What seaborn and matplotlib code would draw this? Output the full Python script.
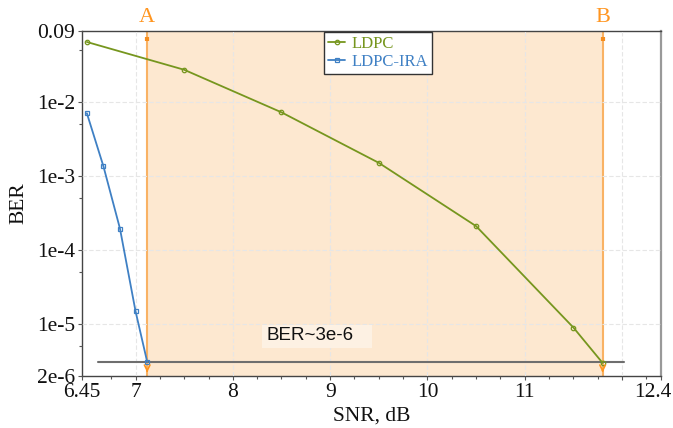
import matplotlib
matplotlib.use("Agg")
import matplotlib.pyplot as plt
import matplotlib.transforms as mtransforms
from matplotlib.patches import Rectangle
from matplotlib.ticker import FixedLocator, NullFormatter
import seaborn as sns
import pandas as pd

# ---- data ----
ldpc_snr = [6.5, 7.5, 8.5, 9.5, 10.5, 11.5, 11.8]
ldpc_ber = [0.064, 0.027, 7.2e-3, 1.5e-3, 2.1e-4, 9.0e-6, 3.0e-6]
ira_snr = [6.5, 6.67, 6.84, 7.0, 7.12]
ira_ber = [7.0e-3, 1.35e-3, 1.95e-4, 1.5e-5, 3.1e-6]
point_a = 7.12
point_b = 11.8
target_ber = 3.1e-6
target_span = [6.61, 12.02]
xtick_vals = [6.45, 7, 8, 9, 10, 11, 12, 12.4]
xtick_labels = ["6.45", "7", "8", "9", "10", "11", "", "12.4"]
ytick_vals = [2e-6, 1e-5, 1e-4, 1e-3, 1e-2, 0.09]
ytick_labels = ["2e-6", "1e-5", "1e-4", "1e-3", "1e-2", "0.09"]
yminor_vals = [5e-6, 5e-5, 5e-4, 5e-3, 5e-2]
xminor_vals = [6.75, 7.25, 7.5, 7.75, 8.25, 8.5, 8.75, 9.25, 9.5, 9.75,
               10.25, 10.5, 10.75, 11.25, 11.5, 11.75, 12.25]

sns.set_style("white")
plt.rcParams["font.family"] = ["Liberation Serif", "DejaVu Serif"]

green = "#76961e"
blue = "#3f80c4"
orange_line = "#f9b264"
orange_text = "#ff951f"
orange_mark = "#f58d1e"
fill = "#fde8d0"

fig = plt.figure(figsize=(6.73, 4.28), dpi=100)
ax = fig.add_axes([82 / 673, 1 - 376 / 428, (661 - 82) / 673, (376 - 31) / 428])

df_l = pd.DataFrame({"snr": ldpc_snr, "ber": ldpc_ber})
df_i = pd.DataFrame({"snr": ira_snr, "ber": ira_ber})

ax.axvspan(point_a, point_b, color=fill, zorder=0, lw=0)

sns.lineplot(data=df_l, x="snr", y="ber", ax=ax, color=green, lw=1.3,
             marker="o", markersize=3.2, markerfacecolor="none",
             markeredgecolor=green, markeredgewidth=0.9, label="LDPC", zorder=4)
sns.lineplot(data=df_i, x="snr", y="ber", ax=ax, color=blue, lw=1.3,
             marker="s", markersize=3.0, markerfacecolor="none",
             markeredgecolor=blue, markeredgewidth=0.9, label="LDPC-IRA", zorder=4)

ax.plot(target_span, [target_ber, target_ber], color="#6e6e6e", lw=1.5, zorder=3)

ax.set_yscale("log")
ax.set_xlim(6.45, 12.4)
ax.set_ylim(2e-6, 0.09)

trans = mtransforms.blended_transform_factory(ax.transData, ax.transAxes)
for xv, lab in [(point_a, "A"), (point_b, "B")]:
    ax.axvline(xv, color=orange_line, lw=1.5, zorder=2)
    ax.annotate("", xy=(xv, 2.05e-6), xytext=(xv, 2.6e-6),
                arrowprops=dict(arrowstyle="->", color=orange_text, lw=1.2,
                                mutation_scale=10), zorder=5)
    ax.text(xv, 1.012, lab, transform=trans, color=orange_text, fontsize=16,
            ha="center", va="bottom")
    ax.plot([xv, xv], [0.074, 0.066], color=orange_mark, lw=3, solid_capstyle="butt", zorder=5)

# BER~3e-6 label with its light box
ax.add_patch(Rectangle((8.30, 4.83e-6), 9.43 - 8.30, 9.9e-6 - 4.83e-6,
                       fc="#fdf1e3", ec="none", zorder=4))
ax.text(8.35, 7.0e-6, "BER~3e-6", family="Liberation Sans", fontsize=13.5,
        color="#111111", ha="left", va="center", zorder=5)

ax.xaxis.set_major_locator(FixedLocator(xtick_vals))
ax.set_xticklabels(xtick_labels)
ax.xaxis.set_minor_locator(FixedLocator(xminor_vals))
ax.yaxis.set_major_locator(FixedLocator(ytick_vals))
ax.set_yticklabels(ytick_labels)
ax.yaxis.set_minor_locator(FixedLocator(yminor_vals))
ax.yaxis.set_minor_formatter(NullFormatter())

ax.tick_params(axis="both", which="major", labelsize=15.5, length=3, width=0.8,
               direction="out", colors="#555555", labelcolor="#111111", pad=2,
               bottom=True, left=True)
ax.tick_params(axis="both", which="minor", length=2.5, width=0.8, direction="out",
               colors="#555555", bottom=True, left=True)

ax.grid(True, which="major", color="#e6e6e6", lw=0.8, ls=(0, (4, 2)))
ax.set_axisbelow(False)
xt = ax.xaxis.get_major_ticks()
yt = ax.yaxis.get_major_ticks()
for t in [xt[0], xt[-1], yt[0], yt[-1]]:
    t.gridline.set_visible(False)
for gl in ax.get_xgridlines() + ax.get_ygridlines():
    gl.set_zorder(1)

# nudge the last x label inside the figure
lbl = ax.get_xticklabels()[-1]
lbl.set_transform(lbl.get_transform() + mtransforms.ScaledTranslation(-8 / 100, 0, fig.dpi_scale_trans))

for side in ["top", "left", "bottom"]:
    ax.spines[side].set_color("#444444")
    ax.spines[side].set_linewidth(1.0)
ax.spines["right"].set_color("#999999")
ax.spines["right"].set_linewidth(1.6)

ax.set_xlabel("SNR, dB", fontsize=15.5, color="#111111", labelpad=3)
ax.set_ylabel("BER", fontsize=15.5, color="#111111", labelpad=6)

leg = ax.legend(loc="upper left", bbox_to_anchor=((324 - 82) / 579, 0.997), fontsize=12,
                frameon=True, fancybox=False, framealpha=1, edgecolor="#333333",
                handlelength=1.0, handletextpad=0.4, borderpad=0.25,
                labelspacing=0.1, borderaxespad=0.0)
leg.get_frame().set_linewidth(1.0)
for txt, c in zip(leg.get_texts(), [green, blue]):
    txt.set_color(c)
leg.set_zorder(6)

fig.savefig("out.png", dpi=100)
